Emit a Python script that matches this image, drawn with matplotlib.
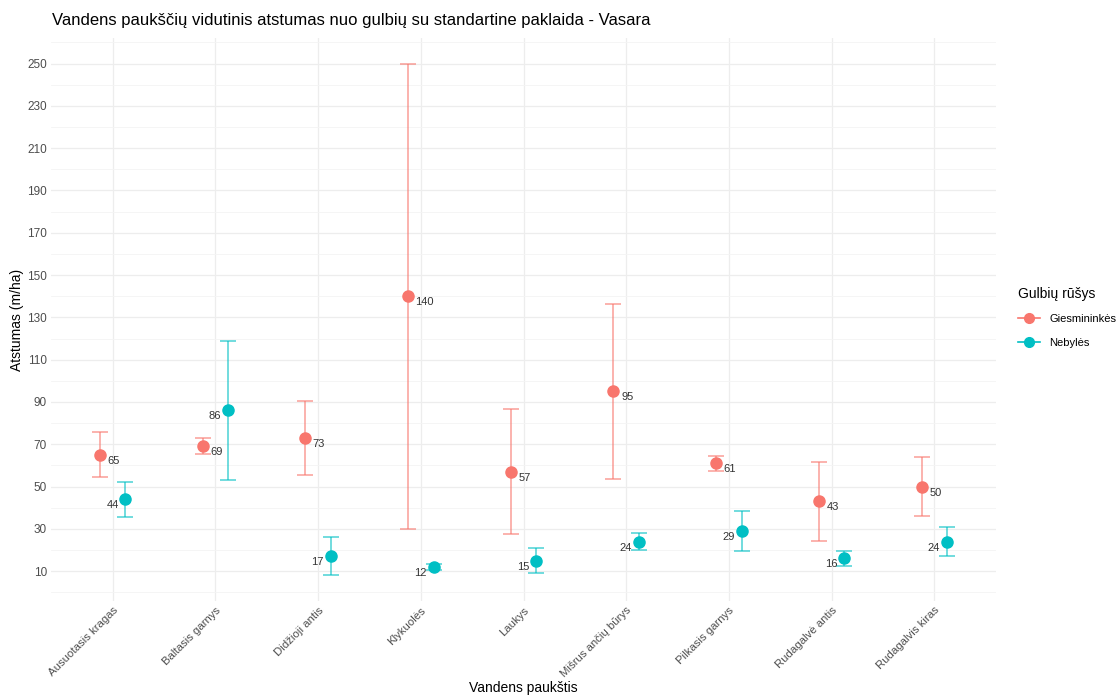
import matplotlib
matplotlib.use("Agg")
import matplotlib.pyplot as plt
from matplotlib.lines import Line2D
import numpy as np

plt.rcParams['font.family'] = ['Liberation Sans', 'DejaVu Sans']

# Paukščių rūšys (x ašis)
pauksciai = ["Ausuotasis kragas", "Baltasis garnys", "Didžioji antis", "Klykuolės",
             "Laukys", "Mišrus ančių būrys", "Pilkasis garnys", "Rudagalvė antis",
             "Rudagalvis kiras"]

# Vidutiniai atstumai ir standartinės paklaidos
gies_vid = [65, 69, 73, 140, 57, 95, 61, 43, 50]
gies_se = [10.6, 3.8, 17.5, 110, 29.5, 41.5, 3.5, 18.7, 14]
neb_vid = [44, 86, 17, 12, 15, 24, 29, 16, 24]
neb_se = [8.3, 33, 9, 1.5, 6, 4, 9.5, 3.5, 7]

rusys = ["Giesmininkės", "Nebylės"]
spalvos = ["#F8766D", "#00BFC4"]

fig = plt.figure(figsize=(11.18, 7), dpi=100)
ax = fig.add_axes([51 / 1118, 1 - 601 / 700, 945 / 1118, 563 / 700])

x = np.arange(len(pauksciai))
poslinkis = 0.125

for vid, se, spalva, dx, i in [(gies_vid, gies_se, spalvos[0], -poslinkis, 0),
                               (neb_vid, neb_se, spalvos[1], poslinkis, 1)]:
    xs = x + dx
    ax.errorbar(xs, vid, yerr=se, fmt="none", ecolor=spalva, alpha=0.65,
                elinewidth=1.2, capsize=5.8, capthick=1.2, zorder=2)
    ax.plot(xs, vid, "o", color=spalva, markersize=8, zorder=3)
    # reikšmių užrašai šalia taškų
    for xi, v in zip(xs, vid):
        if i == 0:
            ax.annotate(str(v), (xi, v), xytext=(5.5, -4.3), textcoords="offset points",
                        ha="left", va="center", fontsize=8, color="#333333")
        else:
            ax.annotate(str(v), (xi, v), xytext=(-5, -4.3), textcoords="offset points",
                        ha="right", va="center", fontsize=8, color="#333333")

ax.set_xlim(-0.6, len(pauksciai) - 0.4)
ax.set_ylim(-4.1, 262.1)
ax.set_xticks(x)
ax.set_xticklabels(pauksciai, rotation=45, ha="right", rotation_mode="anchor",
                   fontsize=8.2, color="#4D4D4D")
ax.set_yticks(np.arange(10, 260, 20))
ax.set_yticks(np.arange(0, 270, 20), minor=True)
ax.tick_params(axis="y", labelsize=8.5, labelcolor="#4D4D4D")
ax.tick_params(which="both", length=0, pad=3)

ax.grid(True, which="major", color="#EDEDED", linewidth=0.9, zorder=0)
ax.grid(True, which="minor", axis="y", color="#F4F4F4", linewidth=0.6, zorder=0)
ax.set_axisbelow(True)
for s in ax.spines.values():
    s.set_visible(False)

ax.set_xlabel("Vandens paukštis", fontsize=10, labelpad=1)
ax.set_ylabel("Atstumas (m/ha)", fontsize=10, labelpad=2)
fig.text(52 / 1118, 1 - 20 / 700, "Vandens paukščių vidutinis atstumas nuo gulbių su standartine paklaida - Vasara",
         fontsize=12, ha="left", va="center")

rankenos = [Line2D([0], [0], color=c, marker="o", markersize=7, linewidth=1.2) for c in spalvos]
leg = ax.legend(rankenos, rusys, title="Gulbių rūšys", loc="upper left",
                bbox_to_anchor=(1008 / 1118, 1 - 277 / 700), bbox_transform=fig.transFigure,
                frameon=False, fontsize=8, title_fontsize=10, handlelength=2,
                alignment="left", labelspacing=1.2)

fig.savefig("out.png", dpi=100)
